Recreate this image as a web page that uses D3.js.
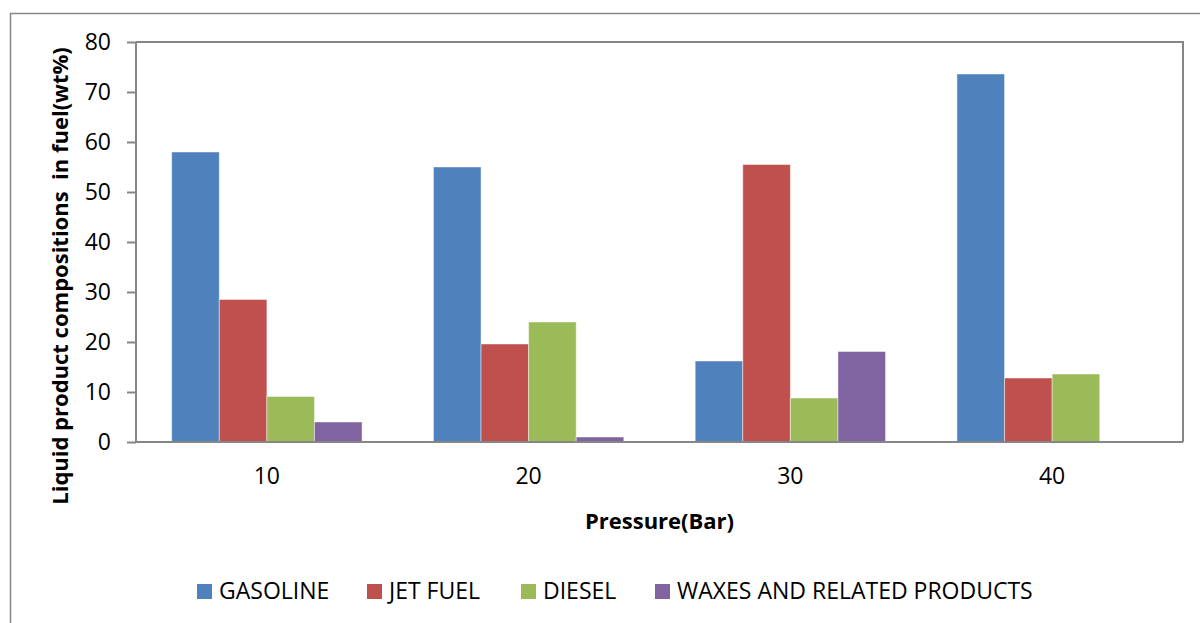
<!DOCTYPE html>
<html>
<head>
<meta charset="utf-8">
<style>
  body { margin: 0; background: #fff; }
  svg { display: block; font-family: "Open Sans", sans-serif; }
  .tick text { font-family: "Open Sans", sans-serif; font-size: 23px; fill: #000; }
  .axis-title { font-size: 22px; font-weight: bold; white-space: pre; }
  .legend text { font-size: 23px; }
</style>
</head>
<body>
<div id="chart"></div>
<script src="https://cdnjs.cloudflare.com/ajax/libs/d3/7.8.5/d3.min.js"></script>
<script>
  // Data
  const pressures = ['10', '20', '30', '40'];
  const seriesNames = ['GASOLINE', 'JET FUEL', 'DIESEL', 'WAXES AND RELATED PRODUCTS'];
  const gasoline = [58, 55, 16.2, 73.6];
  const jetFuel = [28.5, 19.6, 55.5, 12.8];
  const diesel = [9.1, 24, 8.8, 13.6];
  const waxes = [4, 1, 18.1, 0];
  const yTicks = [0, 10, 20, 30, 40, 50, 60, 70, 80];
  const colors = ['#4F81BD', '#C0504D', '#9BBB59', '#8064A2'];

  const seriesValues = [gasoline, jetFuel, diesel, waxes];

  const width = 1200;
  const height = 623;
  const plot = { left: 136, right: 1183, top: 42, bottom: 442 };

  const svg = d3.select('#chart')
    .append('svg')
    .attr('width', width)
    .attr('height', height);

  // Outer chart border
  svg.append('rect')
    .attr('x', 10.5)
    .attr('y', 13.5)
    .attr('width', 1220)
    .attr('height', 640)
    .attr('fill', 'none')
    .attr('stroke', '#868686')
    .attr('stroke-width', 1.5);

  const x0 = d3.scaleBand()
    .domain(pressures)
    .range([plot.left, plot.right]);

  // gap width 150% -> bar width = band / (4 + 1.5)
  const inner = x0.bandwidth() * 4 / 5.5;
  const x1 = d3.scaleBand()
    .domain(d3.range(seriesNames.length))
    .range([(x0.bandwidth() - inner) / 2, (x0.bandwidth() + inner) / 2]);

  const y = d3.scaleLinear()
    .domain([0, 80])
    .range([plot.bottom, plot.top]);

  // Bars
  const groups = svg.append('g')
    .selectAll('g')
    .data(pressures)
    .join('g')
    .attr('transform', (d) => `translate(${x0(d)},0)`);

  groups.selectAll('rect')
    .data((d, i) => seriesValues.map((vals, s) => ({ s, v: vals[i] })))
    .join('rect')
    .filter((d) => d.v > 0)
    .attr('x', (d) => x1(d.s))
    .attr('y', (d) => y(d.v))
    .attr('width', x1.bandwidth())
    .attr('height', (d) => y(0) - y(d.v))
    .attr('fill', (d) => colors[d.s])
    .attr('stroke', 'rgba(255,255,255,0.45)')
    .attr('stroke-width', 1);

  // Plot area top / right border
  svg.append('path')
    .attr('d', `M${plot.left},${plot.top}H${plot.right}V${plot.bottom}`)
    .attr('fill', 'none')
    .attr('stroke', '#868686')
    .attr('stroke-width', 2);

  // Y axis
  const yAxis = svg.append('g')
    .attr('transform', `translate(${plot.left},0)`)
    .call(d3.axisLeft(y).tickValues(yTicks).tickSize(9).tickPadding(16));
  yAxis.selectAll('line, path').attr('stroke', '#868686').attr('stroke-width', 2);
  yAxis.select('.domain').attr('d', `M0,${plot.top}V${plot.bottom}`);

  // X axis
  const xAxis = svg.append('g')
    .attr('transform', `translate(0,${plot.bottom})`)
    .call(d3.axisBottom(x0).tickSize(0).tickPadding(26));
  xAxis.select('.domain')
    .attr('d', `M${plot.left},0H${plot.right}`)
    .attr('stroke', '#868686')
    .attr('stroke-width', 2);

  // Axis titles
  svg.append('text')
    .attr('class', 'axis-title')
    .attr('x', (plot.left + plot.right) / 2)
    .attr('y', 529)
    .attr('text-anchor', 'middle')
    .text('Pressure(Bar)');

  svg.append('text')
    .attr('class', 'axis-title')
    .attr('transform', 'translate(68,276) rotate(-90)')
    .attr('text-anchor', 'middle')
    .text('Liquid product compositions  in fuel(wt%)');

  // Legend
  const legendX = [197, 367, 521, 655];
  const legend = svg.append('g')
    .attr('class', 'legend')
    .selectAll('g')
    .data(seriesNames)
    .join('g')
    .attr('transform', (d, i) => `translate(${legendX[i]},584)`);

  legend.append('rect')
    .attr('width', 15)
    .attr('height', 15)
    .attr('fill', (d, i) => colors[i]);

  legend.append('text')
    .attr('x', 22)
    .attr('y', 15)
    .text((d) => d);
</script>
</body>
</html>
